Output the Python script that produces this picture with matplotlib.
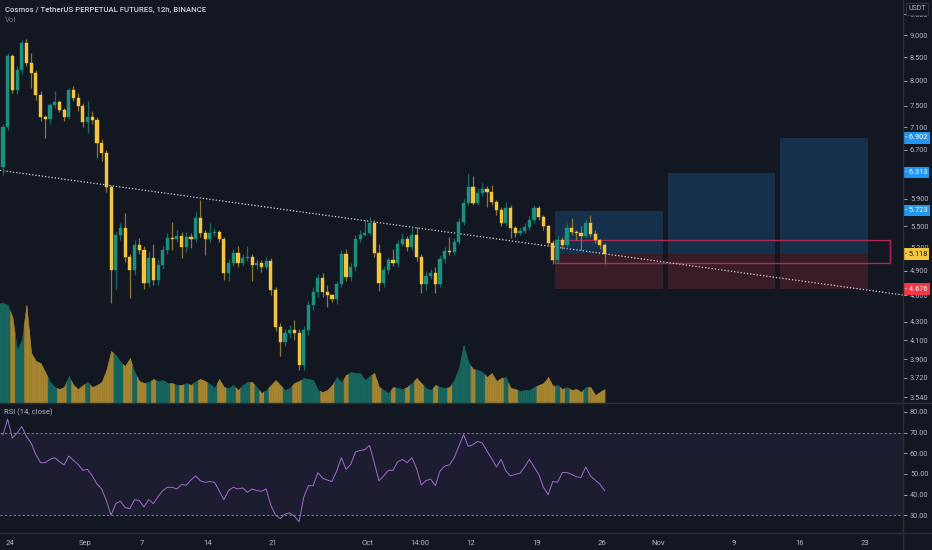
import numpy as np
import matplotlib
matplotlib.use('Agg')
import matplotlib.pyplot as plt
from matplotlib.transforms import blended_transform_factory
from matplotlib.lines import Line2D
from matplotlib.patches import Rectangle

plt.rcParams['font.family'] = ['Roboto', 'DejaVu Sans']

# ---- data (12h candles, ATOM/USDT perp) ----
first_open = 6.404
closes = [7.100, 8.526, 7.810, 8.223, 8.816, 8.374, 8.160, 7.710, 7.286, 7.248,
          7.514, 7.573, 7.418, 7.286, 7.810, 7.651, 7.495, 7.192, 7.286, 7.229,
          6.813, 6.640, 6.083, 4.912, 5.375, 5.473, 5.079, 4.912, 5.238, 5.171,
          4.750, 5.066, 4.787, 4.975, 5.171, 5.334, 5.320, 5.361, 5.211, 5.348,
          5.320, 5.616, 5.403, 5.320, 5.403, 5.417, 5.320, 4.874, 5.001, 5.131,
          5.001, 5.066, 5.079, 4.975, 5.001, 4.950, 5.027, 4.665, 4.240, 4.080,
          4.176, 4.208, 4.176, 3.845, 4.208, 4.488, 4.641, 4.812, 4.641, 4.605,
          4.558, 4.737, 5.118, 4.824, 4.950, 5.320, 5.375, 5.403, 5.544, 5.131,
          4.750, 4.912, 5.040, 5.001, 5.252, 5.320, 5.211, 5.375, 5.079, 4.737,
          4.837, 4.874, 4.737, 5.053, 5.158, 5.145, 5.279, 5.558, 5.837, 6.083,
          5.837, 5.989, 6.052, 6.005, 5.852, 5.733, 5.544, 5.762, 5.473, 5.403,
          5.431, 5.487, 5.587, 5.762, 5.630, 5.501, 5.265, 5.040, 5.306, 5.238,
          5.473, 5.417, 5.403, 5.361, 5.544, 5.389, 5.306, 5.238, 5.118]
highs = [7.15, 8.60, 8.58, 8.30, 8.88, 8.90, 8.60, 8.22, 7.80, 7.33,
         7.56, 7.80, 7.62, 7.45, 7.86, 7.90, 7.75, 7.55, 7.60, 7.40,
         7.28, 6.88, 6.70, 6.12, 5.42, 5.55, 5.69, 5.12, 5.30, 5.34,
         5.22, 5.16, 5.25, 5.05, 5.22, 5.40, 5.56, 5.45, 5.42, 5.42,
         5.40, 5.72, 5.88, 5.45, 5.55, 5.47, 5.45, 5.35, 5.05, 5.18,
         5.22, 5.12, 5.22, 5.12, 5.05, 5.04, 5.08, 5.06, 4.70, 4.28,
         4.22, 4.26, 4.32, 4.22, 4.25, 4.53, 4.70, 4.86, 4.87, 4.72,
         4.62, 4.78, 5.17, 5.19, 5.00, 5.38, 5.45, 5.58, 5.63, 5.58,
         5.25, 4.96, 5.08, 5.18, 5.30, 5.40, 5.36, 5.48, 5.48, 5.12,
         4.90, 4.92, 4.95, 5.10, 5.21, 5.35, 5.33, 5.62, 5.90, 6.29,
         6.25, 6.06, 6.15, 6.10, 6.12, 5.88, 5.78, 5.85, 5.80, 5.50,
         5.48, 5.55, 5.65, 5.80, 5.79, 5.66, 5.52, 5.30, 5.38, 5.35,
         5.55, 5.62, 5.45, 5.50, 5.60, 5.66, 5.45, 5.32, 5.27]
lows = [6.28, 7.05, 7.75, 7.74, 8.15, 8.30, 7.85, 7.62, 7.22, 6.90,
        7.15, 7.45, 7.38, 7.22, 7.25, 7.60, 7.40, 7.10, 7.00, 7.15,
        6.55, 6.50, 6.00, 4.51, 4.68, 5.30, 5.02, 4.57, 4.85, 5.12,
        4.68, 4.70, 4.72, 4.72, 4.93, 5.12, 5.17, 5.28, 5.07, 5.15,
        5.20, 5.28, 5.35, 5.11, 5.28, 5.36, 5.28, 4.79, 4.78, 4.96,
        4.95, 4.97, 5.03, 4.77, 4.93, 4.88, 4.92, 4.60, 4.20, 3.94,
        4.04, 4.12, 4.10, 3.80, 3.80, 4.15, 4.43, 4.58, 4.58, 4.47,
        4.52, 4.50, 4.70, 4.78, 4.78, 4.90, 5.28, 5.36, 5.37, 5.08,
        4.65, 4.70, 4.86, 4.96, 4.95, 5.22, 5.16, 5.17, 5.03, 4.63,
        4.66, 4.80, 4.63, 4.70, 5.00, 5.10, 5.10, 5.25, 5.52, 5.80,
        5.80, 5.80, 5.95, 5.78, 5.80, 5.66, 5.50, 5.50, 5.33, 5.35,
        5.37, 5.40, 5.45, 5.55, 5.58, 5.45, 5.22, 4.99, 5.00, 5.18,
        5.20, 5.37, 5.31, 5.17, 5.33, 5.35, 5.26, 5.18, 4.99]
volume = [100, 98, 86, 53, 63, 98, 50, 42, 40, 31,
          21, 16, 14, 16, 27, 18, 14, 18, 21, 16,
          18, 21, 33, 52, 48, 41, 37, 45, 31, 22,
          20, 21, 24, 22, 23, 20, 20, 18, 18, 20,
          18, 22, 24, 22, 19, 15, 24, 16, 15, 18,
          13, 18, 21, 21, 16, 10, 13, 18, 23, 18,
          13, 15, 20, 22, 25, 24, 23, 13, 11, 13,
          18, 26, 21, 28, 31, 30, 30, 23, 27, 30,
          16, 13, 10, 16, 15, 14, 16, 20, 25, 20,
          15, 13, 18, 16, 15, 16, 23, 35, 58, 41,
          34, 33, 31, 26, 30, 22, 25, 26, 15, 14,
          12, 13, 13, 16, 18, 20, 26, 17, 18, 14,
          16, 13, 14, 11, 16, 16, 8, 11, 14]
rsi = [68.9, 76.5, 67.3, 69.7, 72.9, 68.1, 64.9, 59.4, 55.4, 55.4,
       57.0, 57.8, 55.9, 54.3, 58.6, 56.5, 54.6, 51.7, 52.2, 49.0,
       45.1, 42.7, 37.1, 30.0, 35.6, 36.8, 33.7, 33.2, 37.5, 37.1,
       34.0, 37.6, 35.6, 39.0, 41.9, 43.5, 43.5, 42.7, 44.8, 44.6,
       47.0, 49.0, 46.7, 45.9, 46.3, 45.9, 41.9, 37.5, 41.9, 43.5,
       42.7, 43.2, 41.1, 42.7, 41.9, 41.6, 42.7, 34.8, 30.0, 28.4,
       30.5, 31.1, 29.5, 26.8, 38.7, 44.3, 44.3, 50.6, 47.9, 47.0,
       46.3, 51.4, 57.8, 52.2, 54.6, 60.6, 61.3, 61.7, 63.8, 55.4,
       46.7, 49.0, 51.7, 51.7, 55.9, 57.0, 55.4, 57.8, 52.7, 44.6,
       46.7, 47.5, 44.3, 51.4, 53.8, 54.3, 57.8, 63.3, 68.9, 63.3,
       64.1, 65.7, 64.9, 61.0, 57.3, 53.3, 57.0, 51.4, 49.0, 49.8,
       50.3, 53.3, 57.0, 53.3, 49.8, 43.5, 40.0, 46.3, 45.9, 50.6,
       50.6, 49.8, 48.6, 48.3, 53.3, 49.0, 47.0, 45.1, 41.9]

# x axis: days counted from Aug 24
date_ticks = [0, 8, 14, 21, 28, 38, 43.583, 49, 56, 63, 69, 77, 84, 91]
date_labels = ['24', 'Sep', '7', '14', '21', 'Oct', '14:00', '12', '19', '26',
               'Nov', '9', '16', '23']
price_ticks = [9.5, 9.0, 8.5, 8.0, 7.5, 7.1, 6.7, 5.9, 5.5, 5.2, 4.9,
               4.6, 4.3, 4.1, 3.9, 3.72, 3.54]
rsi_ticks = [30, 40, 50, 60, 70, 80]

# long position drawings (entry / stop / targets)
entry = 5.118
stop = 4.676
targets = [5.723, 6.313, 6.902]
target_spans = [(57.98, 69.47), (70.0, 81.4), (81.9, 91.3)]
zone_lo, zone_hi = 5.001, 5.306
zone_span = (57.98, 93.6)
trend_x = [-1.064, 95.0]
trend_y = [6.35, 4.605]

# ---- style ----
BG = '#131722'
UP = '#1c907f'
DN = '#f4c53f'
WICK_UP = '#1a6a61'
WICK_DN = '#8c7636'
VOL_UP = '#17655e'
VOL_DN = '#a5852f'
TXT = '#b2b5be'
GRID = '#2a2e39'

W, H = 932, 550
fig = plt.figure(figsize=(W / 100, H / 100), dpi=100, facecolor=BG)
pos_main = [0, 147 / H, 903 / W, 403 / H]

axv = fig.add_axes(pos_main, zorder=0)
axv.set_facecolor(BG)
ax = fig.add_axes(pos_main, zorder=1)
ax.patch.set_visible(False)

n = len(closes)
x = -0.75 + 0.5 * np.arange(n)
c = np.array(closes)
o = np.array([first_open] + closes[:-1])
hi = np.array(highs)
lo = np.array(lows)
up = c >= o

# volume as coloured area
v = np.array(volume, dtype=float)
vcol = [VOL_UP if u else VOL_DN for u in up]
axv.fill_between([x[0] - 0.4, x[0]], [v[0], v[0]], color=vcol[0], lw=0.4, ec=vcol[0])
for i in range(n - 1):
    xm = (x[i] + x[i + 1]) / 2
    vm = (v[i] + v[i + 1]) / 2
    axv.fill_between([x[i], xm], [v[i], vm], fc=vcol[i], ec=vcol[i], lw=0.4)
    axv.fill_between([xm, x[i + 1]], [vm, v[i + 1]], fc=vcol[i + 1], ec=vcol[i + 1], lw=0.4)
axv.set_ylim(0, 403)
axv.set_xlim(trend_x[0], trend_x[1])
axv.axis('off')

# position boxes
for (x0, x1), tgt in zip(target_spans, targets):
    ax.fill_between([x0, x1], entry, tgt, color='#2196f3', alpha=0.2, lw=0, zorder=1)
    ax.fill_between([x0, x1], stop, entry, color='#f23645', alpha=0.17, lw=0, zorder=1)
ax.add_patch(Rectangle((zone_span[0], zone_lo), zone_span[1] - zone_span[0],
                       zone_hi - zone_lo, fill=False, ec='#c22a58', lw=1.0,
                       alpha=0.9, zorder=2))

# trend line
ax.plot(trend_x, trend_y, color='#d1d4dc', lw=0.9, ls=(0, (1, 1.6)), zorder=3)

# candles
ax.vlines(x, lo, hi, colors=[WICK_UP if u else WICK_DN for u in up], lw=0.9, zorder=4)
cols = [UP if u else DN for u in up]
ax.bar(x, np.abs(c - o), bottom=np.minimum(o, c), width=0.33, color=cols,
       edgecolor=cols, lw=0.3, zorder=5)

ax.set_yscale('log')
ax.set_ylim(3.486, 9.85)
ax.set_xlim(trend_x[0], trend_x[1])
ax.yaxis.tick_right()
ax.set_yticks(price_ticks)
ax.set_yticklabels(['%.3f' % t for t in price_ticks])
ax.yaxis.set_minor_locator(matplotlib.ticker.NullLocator())
ax.tick_params(axis='y', length=3, width=0.6, color=TXT, labelcolor=TXT,
               labelsize=5.3, pad=2)
ax.set_xticks([])
for s in ax.spines.values():
    s.set_visible(False)

# price tags on the right scale
trans = blended_transform_factory(ax.transAxes, ax.transData)
tags = [(targets[2], '#2196f3', 'white'), (targets[1], '#2196f3', 'white'),
        (targets[0], '#2196f3', 'white'), (closes[-1], DN, '#131722'),
        (stop, '#f23645', 'white')]
for val, bg, fg in tags:
    ax.text(1.002, val, '- %.3f' % val, transform=trans, ha='left', va='center',
            fontsize=5.3, color=fg, clip_on=False, zorder=10,
            bbox=dict(boxstyle='square,pad=0.3', fc=bg, ec='none'))

fig.text(5 / W, 1 - 10 / H, 'Cosmos / TetherUS PERPETUAL FUTURES, 12h, BINANCE',
         fontsize=5.6, color='#d1d4dc', fontweight='medium', va='center')
fig.text(5 / W, 1 - 20 / H, 'Vol', fontsize=5.6, color='#787b86', va='center')
fig.text(917 / W, 1 - 9 / H, 'USDT', fontsize=5, color=TXT, ha='center', va='center',
         bbox=dict(boxstyle='square,pad=0.35', fc=BG, ec='#363a45', lw=0.6), zorder=20)

# RSI panel
axr = fig.add_axes([0, 17 / H, 903 / W, 128 / H])
axr.set_facecolor(BG)
axr.axhspan(30, 70, color='#7e57c2', alpha=0.1, lw=0)
axr.axhline(70, color='#787b86', lw=0.8, ls=(0, (2, 2)))
axr.axhline(30, color='#787b86', lw=0.8, ls=(0, (2, 2)))
axr.plot(x, rsi, color='#a06cc8', lw=0.7)
axr.set_ylim(21.4, 83.3)
axr.set_xlim(trend_x[0], trend_x[1])
axr.yaxis.tick_right()
axr.set_yticks(rsi_ticks)
axr.set_yticklabels(['%.2f' % t for t in rsi_ticks])
axr.tick_params(axis='y', length=3, width=0.6, color=TXT, labelcolor=TXT,
                labelsize=5.3, pad=2)
axr.set_xticks(date_ticks)
axr.set_xticklabels(date_labels)
axr.tick_params(axis='x', length=0, labelcolor=TXT, labelsize=5.5, pad=5)
for s in axr.spines.values():
    s.set_visible(False)
axr.text(4 / 903, 0.945, 'RSI (14, close)', transform=axr.transAxes,
         fontsize=5.5, color=TXT, va='center')

# panel separators
for yy in (403, 533):
    fig.add_artist(Line2D([0, 1], [1 - yy / H] * 2, color=GRID, lw=1))
fig.add_artist(Line2D([903 / W] * 2, [0, 1], color=GRID, lw=1))

fig.savefig('out.png', dpi=100, facecolor=BG)
